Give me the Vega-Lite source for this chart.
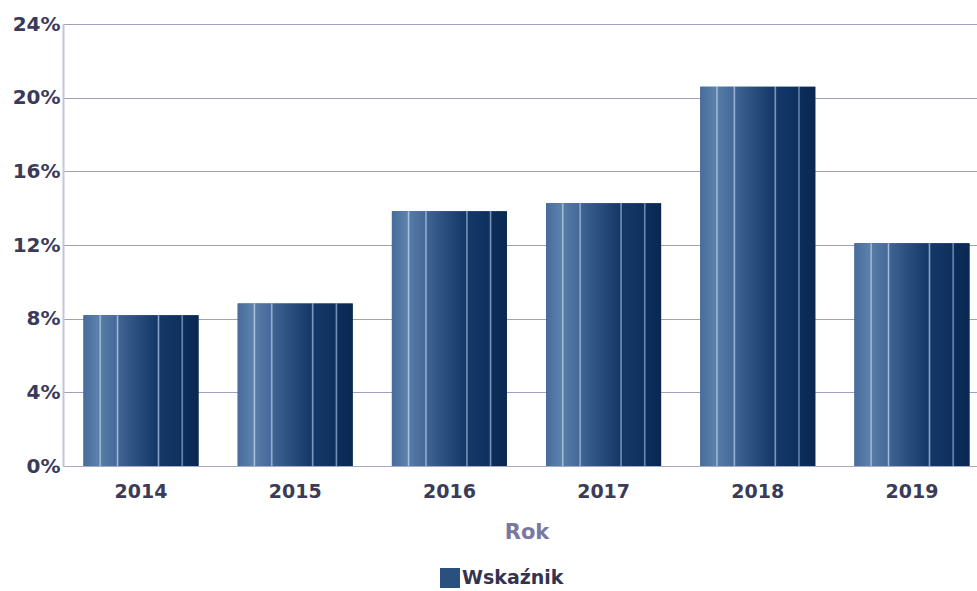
{
  "$schema": "https://vega.github.io/schema/vega-lite/v6.json",
  "width": 927,
  "height": 442,
  "autosize": "none",
  "padding": {"left": 63, "top": 24, "right": 0, "bottom": 125},
  "background": "white",
  "config": {
    "view": {"stroke": null},
    "font": "DejaVu Sans"
  },
  "data": {
    "values": [
      {"Rok": "2014", "Wartosc": 0.0818, "Seria": "Wskaźnik"},
      {"Rok": "2015", "Wartosc": 0.0882, "Seria": "Wskaźnik"},
      {"Rok": "2016", "Wartosc": 0.1383, "Seria": "Wskaźnik"},
      {"Rok": "2017", "Wartosc": 0.1427, "Seria": "Wskaźnik"},
      {"Rok": "2018", "Wartosc": 0.2059, "Seria": "Wskaźnik"},
      {"Rok": "2019", "Wartosc": 0.1209, "Seria": "Wskaźnik"}
    ]
  },
  "encoding": {
    "x": {
      "field": "Rok",
      "type": "nominal",
      "scale": {"paddingInner": 0.254, "paddingOuter": 0.133},
      "axis": {
        "title": "Rok",
        "labelAngle": 0,
        "labelFont": "DejaVu Sans",
        "labelFontSize": 19,
        "labelFontWeight": "bold",
        "labelColor": "#3b3b58",
        "labelPadding": 16,
        "ticks": false,
        "domain": true,
        "domainColor": "#a8a8c4",
        "domainWidth": 1,
        "titleFont": "DejaVu Sans",
        "titleFontSize": 21,
        "titleFontWeight": "bold",
        "titleColor": "#7878a0",
        "titlePadding": 20
      }
    },
    "y": {
      "field": "Wartosc",
      "type": "quantitative",
      "scale": {"domain": [0, 0.24], "nice": false},
      "axis": {
        "title": null,
        "format": ".0%",
        "values": [0, 0.04, 0.08, 0.12, 0.16, 0.2, 0.24],
        "labelFont": "DejaVu Sans",
        "labelFontSize": 20,
        "labelFontWeight": "bold",
        "labelColor": "#3b3b58",
        "labelPadding": 3,
        "ticks": false,
        "domain": true,
        "domainColor": "#c4c4dc",
        "domainWidth": 2,
        "grid": true,
        "gridColor": "#a0a0bc",
        "gridWidth": 1
      }
    }
  },
  "layer": [
    {
      "mark": {"type": "bar", "strokeWidth": 0, "fill": "#2a5080"},
      "encoding": {
        "stroke": {
          "field": "Seria",
          "type": "nominal",
          "scale": {"range": ["#2a5080"]},
          "legend": {
            "orient": "none",
            "legendX": 377,
            "legendY": 544,
            "title": null,
            "symbolType": "square",
            "symbolSize": 400,
            "symbolOpacity": 1,
            "symbolStrokeWidth": 0,
            "symbolFillColor": {
              "gradient": "linear",
              "x1": 0, "y1": 0, "x2": 1, "y2": 0,
              "stops": [
                {"offset": 0, "color": "#5078a6"},
                {"offset": 0.18, "color": "#aec4de"},
                {"offset": 0.3, "color": "#3c6090"},
                {"offset": 0.5, "color": "#8aa6c8"},
                {"offset": 0.62, "color": "#1a3e6c"},
                {"offset": 0.8, "color": "#6f8db5"},
                {"offset": 1, "color": "#0a2850"}
              ]
            },
            "labelFont": "DejaVu Sans",
            "labelFontSize": 19,
            "labelFontWeight": "bold",
            "labelColor": "#333350",
            "labelOffset": 2
          }
        }
      }
    },
    {
      "mark": {
        "type": "bar",
        "color": {
          "gradient": "linear",
          "x1": 0, "y1": 0, "x2": 1, "y2": 0,
          "stops": [
            {"offset": 0, "color": "#476c9c"},
            {"offset": 0.12, "color": "#5a80ab"},
            {"offset": 0.133, "color": "#587ea9"},
            {"offset": 0.145, "color": "#b0c6e0"},
            {"offset": 0.157, "color": "#557ba6"},
            {"offset": 0.284, "color": "#46699a"},
            {"offset": 0.296, "color": "#a4bcd9"},
            {"offset": 0.308, "color": "#3f6393"},
            {"offset": 0.5, "color": "#24497a"},
            {"offset": 0.64, "color": "#143968"},
            {"offset": 0.652, "color": "#8ca7c9"},
            {"offset": 0.664, "color": "#133867"},
            {"offset": 0.846, "color": "#0e305f"},
            {"offset": 0.858, "color": "#7c99bf"},
            {"offset": 0.87, "color": "#0c2d5c"},
            {"offset": 1, "color": "#0a2850"}
          ]
        }
      }
    }
  ]
}
